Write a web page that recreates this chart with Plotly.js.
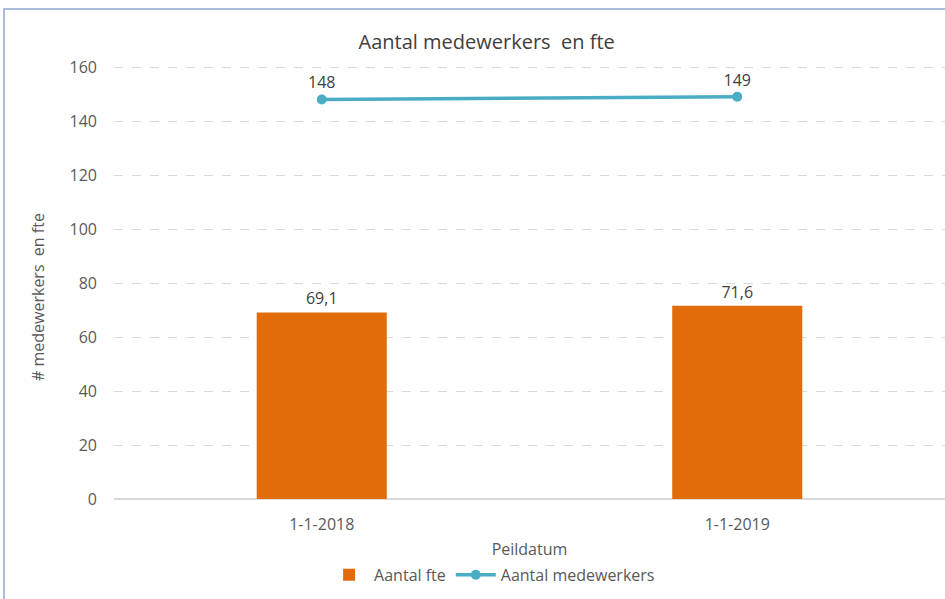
<!DOCTYPE html>
<html><head><meta charset="utf-8">
<script src="https://cdn.plot.ly/plotly-3.0.1.min.js"></script>
<style>html,body{margin:0;padding:0;background:#fff}</style>
</head><body>
<div id="chart" style="width:945px;height:599px"></div>
<script>
const categories = ["1-1-2018", "1-1-2019"];
const fteValues = [69.1, 71.6];
const fteLabels = ["69,1", "71,6"];
const medewerkers = [148, 149];
const medewerkersLabels = ["148", "149"];
const yTicks = [0, 20, 40, 60, 80, 100, 120, 140, 160];

const font = "Open Sans, Noto Sans, sans-serif";
const txt = "#595959";

const traces = [
  {
    type: "bar", name: "Aantal fte", x: categories, y: fteValues,
    text: fteLabels, textposition: "outside", cliponaxis: false,
    textfont: {family: font, size: 16, color: "#404040"},
    marker: {color: "#E36C0A"}, width: 0.313
  },
  {
    type: "scatter", mode: "lines+markers+text", name: "Aantal medewerkers",
    x: categories, y: medewerkers, text: medewerkersLabels, textposition: "top center",
    textfont: {family: font, size: 16, color: "#404040"}, cliponaxis: false,
    line: {color: "#4BACC6", width: 3.5}, marker: {color: "#4BACC6", size: 10}
  }
];

const layout = {
  width: 945, height: 599,
  margin: {l: 114, r: 0, t: 66, b: 100},
  paper_bgcolor: "#fff", plot_bgcolor: "#fff",
  font: {family: font, color: txt},
  title: {text: "Aantal medewerkers  en fte", font: {family: font, size: 20, color: "#404040"}, x: 0.515, xref: "container", y: 0.93, yref: "container", xanchor: "center", yanchor: "middle"},
  showlegend: true,
  legend: {orientation: "h", x: 0.455, xanchor: "center", y: -0.175, yanchor: "middle", font: {family: font, size: 16, color: txt}, traceorder: "normal", itemwidth: 40},
  bargap: 0.687,
  xaxis: {
    type: "category", showgrid: false, showline: false, ticks: "",
    tickfont: {family: font, size: 16, color: txt}, ticklabelstandoff: 14,
    title: {text: "Peildatum", font: {family: font, size: 16, color: txt}, standoff: 9}
  },
  yaxis: {
    range: [0, 160.4], tickvals: yTicks, ticktext: yTicks.map(String),
    showgrid: true, gridcolor: "#D9D9D9", griddash: "dash", gridwidth: 1,
    zeroline: true, zerolinecolor: "#D9D9D9", zerolinewidth: 1.5,
    showline: false, ticks: "", ticklabelstandoff: 16,
    tickfont: {family: font, size: 16, color: txt}
  },
  annotations: [{
    text: "# medewerkers  en fte", xref: "paper", yref: "paper",
    x: (38 - 114) / 831, y: 0.4665, xanchor: "center", yanchor: "middle",
    textangle: -90, showarrow: false, font: {family: font, size: 16, color: txt}
  }],
  shapes: [{
    type: "rect", xref: "paper", yref: "paper",
    x0: (4 - 114) / 831, x1: 1.1, y0: -0.3, y1: 1 + (66 - 9) / 433,
    line: {color: "#8FA8D0", width: 1.5}, fillcolor: "rgba(0,0,0,0)", layer: "below"
  }]
};

Plotly.newPlot("chart", traces, layout, {displayModeBar: false, staticPlot: true});
</script>
</body></html>
